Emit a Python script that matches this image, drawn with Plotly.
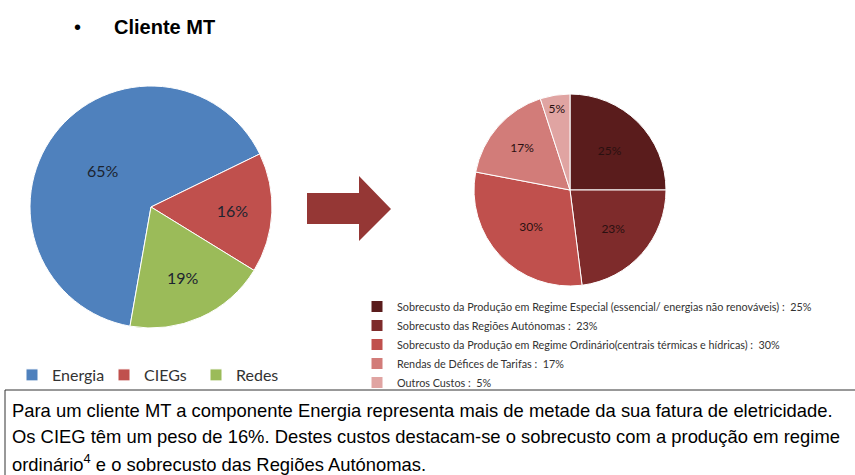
import plotly.graph_objects as go

W, H = 855, 475

# ---- data ----
main_labels = ["Energia", "CIEGs", "Redes"]
main_values = [65, 16, 19]
main_colors = ["#4f81bd", "#c0504d", "#9bbb59"]

cieg_labels = [
    "Sobrecusto da Produção em Regime Especial (essencial/ energias não renováveis)",
    "Sobrecusto das Regiões Autónomas",
    "Sobrecusto da Produção em Regime Ordinário(centrais térmicas e hídricas)",
    "Rendas de Défices de Tarifas",
    "Outros Custos",
]
cieg_values = [25, 23, 30, 17, 5]
cieg_colors = ["#5a1c1c", "#7e2b2b", "#c0504d", "#d27c79", "#e0a4a2"]

title_text = "Cliente MT"
note_lines = [
    "Para um cliente MT a componente Energia representa mais de metade da sua fatura de eletricidade.",
    "Os CIEG têm um peso de 16%. Destes custos destacam-se o sobrecusto com a produção em regime",
    "ordinário<sup>4</sup> e o sobrecusto das Regiões Autónomas.",
]


def px(x):
    return x / W


def py(y):
    return 1 - y / H


fig = go.Figure()

fig.add_trace(go.Pie(
    labels=main_labels, values=main_values,
    marker=dict(colors=main_colors, line=dict(color="white", width=1)),
    sort=False, direction="clockwise", rotation=190,
    textinfo="percent", textposition="inside",
    insidetextfont=dict(family="Lato", size=16, color="#1c2430"),
    domain=dict(x=[px(30), px(272)], y=[py(328), py(86)]),
    legend="legend", hoverinfo="label+percent",
))

fig.add_trace(go.Pie(
    labels=[f"{l} :  {v}%" for l, v in zip(cieg_labels, cieg_values)],
    values=cieg_values,
    marker=dict(colors=cieg_colors, line=dict(color="white", width=1)),
    sort=False, direction="clockwise", rotation=0,
    textinfo="percent", textposition="inside",
    insidetextfont=dict(family="Lato", size=12, color="#2a1010"),
    domain=dict(x=[px(474), px(666)], y=[py(286), py(94)]),
    legend="legend2", hoverinfo="label+percent",
))

shapes = [
    # arrow
    dict(type="path", xref="paper", yref="paper",
         path="M{},{} L{},{} L{},{} L{},{} L{},{} L{},{} L{},{} Z".format(
             px(307), py(193), px(359), py(193), px(359), py(176), px(391), py(209),
             px(359), py(241), px(359), py(224), px(307), py(224)),
         fillcolor="#953735", line=dict(width=0)),
    # text box
    dict(type="rect", xref="paper", yref="paper",
         x0=px(5), x1=px(870), y0=py(390), y1=py(490),
         line=dict(color="#333333", width=1), fillcolor="rgba(0,0,0,0)"),
]

annotations = [
    dict(text="•", x=px(72), y=py(27), xref="paper", yref="paper", xanchor="left", yanchor="middle",
         showarrow=False, font=dict(family="Liberation Sans", size=20, color="black")),
    dict(text="<b>" + title_text + "</b>", x=px(112), y=py(27), xref="paper", yref="paper",
         xanchor="left", yanchor="middle", showarrow=False,
         font=dict(family="Liberation Sans", size=20, color="black")),
]
for i, line in enumerate(note_lines):
    annotations.append(dict(text=line, x=px(10), y=py(410 + 26.5 * i), xref="paper", yref="paper",
                            xanchor="left", yanchor="middle", showarrow=False, align="left",
                            font=dict(family="Liberation Sans", size=18.4, color="black")))

fig.update_layout(
    width=W, height=H, margin=dict(l=0, r=0, t=0, b=0),
    paper_bgcolor="white", plot_bgcolor="white",
    shapes=shapes, annotations=annotations,
    legend=dict(orientation="h", x=px(12), y=py(358), xanchor="left", yanchor="top",
                font=dict(family="Lato", size=16, color="#333333"), entrywidth=47,
                bgcolor="rgba(0,0,0,0)"),
    legend2=dict(orientation="v", x=px(357), y=py(292), xanchor="left", yanchor="top",
                 font=dict(family="Lato", size=10.8, color="#333333"),
                 bgcolor="rgba(0,0,0,0)"),
)

fig.write_html("out.html", config={"displayModeBar": False},
               post_script="document.body.style.margin='0';")
